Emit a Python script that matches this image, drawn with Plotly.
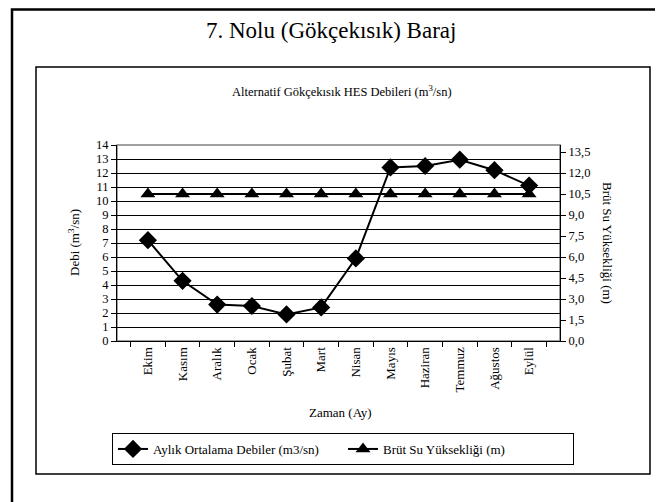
import plotly.graph_objects as go

months = ["Ekim", "Kasım", "Aralık", "Ocak", "Şubat", "Mart", "Nisan",
          "Mayıs", "Haziran", "Temmuz", "Ağustos", "Eylül"]
debi = [7.2, 4.3, 2.6, 2.5, 1.9, 2.4, 5.9, 12.4, 12.5, 12.95, 12.2, 11.1]
yukseklik = [10.5] * 12
left_ticks = list(range(0, 15))
right_ticks = [0, 1.5, 3.0, 4.5, 6.0, 7.5, 9.0, 10.5, 12.0, 13.5]

W, H = 663, 502
FONT = "Liberation Serif, Times New Roman, serif"
OFF = 8  # default page margin of the html body

def px(x):
    return (x - OFF) / W

def py(y):
    return 1 - (y - OFF) / H

x0, x1 = px(117), px(560)
y0, y1 = py(341), py(145)

fig = go.Figure()
fig.add_trace(go.Scatter(
    x=months, y=debi, name="Aylık Ortalama Debiler (m3/sn)",
    mode="lines+markers", line=dict(color="black", width=2),
    marker=dict(symbol="diamond", size=14, color="black"),
    xaxis="x", yaxis="y"))
fig.add_trace(go.Scatter(
    x=months, y=yukseklik, name="Brüt Su Yüksekliği (m)",
    mode="lines+markers", line=dict(color="black", width=2),
    marker=dict(symbol="triangle-up", size=13, color="black"),
    xaxis="x", yaxis="y2"))

ytickfont = dict(family=FONT, size=12.5, color="black")
xtickfont = dict(family=FONT, size=13, color="black")

def ann(text, x, y, size=13, angle=0):
    return dict(text=text, x=px(x), y=py(y), xref="paper", yref="paper",
                xanchor="center", yanchor="middle", showarrow=False, textangle=angle,
                font=dict(family=FONT, size=size, color="black"))

fig.update_layout(
    width=W, height=H, margin=dict(l=0, r=0, t=0, b=0, autoexpand=False),
    paper_bgcolor="white", plot_bgcolor="white",
    font=dict(family=FONT, color="black"),
    separators=", ",
    showlegend=True,
    legend=dict(orientation="h", x=px(112), xanchor="left", y=py(433), yanchor="top",
                bordercolor="black", borderwidth=1, font=dict(family=FONT, size=13),
                bgcolor="white", entrywidth=185, entrywidthmode="pixels"),
    xaxis=dict(domain=[x0, x1], type="category", categoryorder="array", categoryarray=months,
               tickson="boundaries", ticks="outside", ticklen=5, tickcolor="black",
               tickangle=-90, tickfont=xtickfont, showline=True, linecolor="black",
               linewidth=1, showgrid=False, zeroline=False, fixedrange=True),
    yaxis=dict(domain=[y0, y1], range=[0, 14], tickvals=left_ticks, ticks="outside",
               ticklen=5, tickcolor="black", tickfont=ytickfont, showline=True,
               linecolor="black", linewidth=1, showgrid=True, gridcolor="black",
               gridwidth=1, zeroline=False, fixedrange=True),
    yaxis2=dict(overlaying="y", side="right", anchor="x", range=[0, 14.0],
                tickvals=right_ticks, tickformat=".1f", ticks="outside", ticklen=5,
                tickcolor="black", tickfont=ytickfont, showline=True, linecolor="black",
                linewidth=1, showgrid=False, zeroline=False, fixedrange=True),
    shapes=[
        dict(type="rect", xref="paper", yref="paper", x0=px(12), x1=px(672), y0=py(520), y1=py(9.5),
             line=dict(color="black", width=2.5), layer="below"),
        dict(type="rect", xref="paper", yref="paper", x0=px(36), x1=px(650), y0=py(474), y1=py(67),
             line=dict(color="black", width=1.5), layer="below"),
        dict(type="rect", xref="paper", yref="paper", x0=x0, x1=x1, y0=y0, y1=y1,
             line=dict(color="#808080", width=1.5), layer="below"),
    ],
    annotations=[
        ann("7. Nolu (Gökçekısık) Baraj", 331, 31, size=23),
        ann("Alternatif Gökçekısık HES Debileri (m<sup>3</sup>/sn)", 342, 91, size=12.5),
        ann("Debi (m<sup>3</sup>/sn)", 74, 243, angle=-90),
        ann("Brüt Su Yüksekliği (m)", 608, 243, angle=90),
        ann("Zaman (Ay)", 340, 412),
    ],
)

fig.write_html("out.html")
